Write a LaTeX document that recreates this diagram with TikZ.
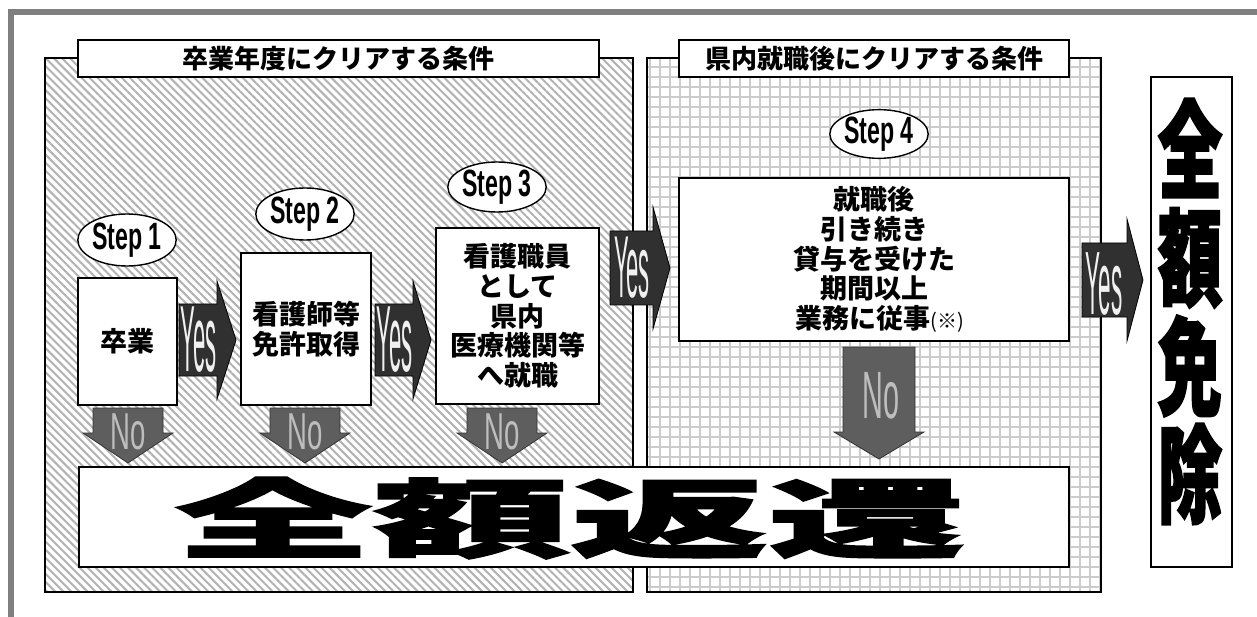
\documentclass[tikz,border=0pt]{standalone}
\usepackage{fontspec}
\setmainfont{Liberation Sans}
\newfontfamily\jp{Noto Sans CJK JP}
\newfontfamily\jpheavyA{Noto Sans CJK JP}[BoldFeatures={FakeBold=1.6}]
\newfontfamily\jpheavyB{Noto Sans CJK JP}[BoldFeatures={FakeBold=2.6}]
\usetikzlibrary{patterns.meta,shapes.geometric}
\definecolor{framegray}{HTML}{7F7F7F}
\definecolor{yesfill}{HTML}{303030}
\definecolor{nofill}{HTML}{5E5E5E}
\definecolor{notext}{HTML}{BDBDBD}
% #1 name, #2 x left, #3 x head base, #4 x tip, #5 centre y, #6 half body, #7 half head
\newcommand\yesarrow[7]{%
  \draw[yesar] (#2,#5-#6) -- (#3,#5-#6) -- (#3,#5-#7) -- (#4,#5) -- (#3,#5+#7) -- (#3,#5+#6) -- (#2,#5+#6) -- cycle;
}
% #1 name, #2 centre x, #3 y top, #4 y head base, #5 y tip, #6 half body, #7 half head
\newcommand\noarrow[7]{%
  \draw[noar] (#2-#6,#3) -- (#2+#6,#3) -- (#2+#6,#4) -- (#2+#7,#4) -- (#2,#5) -- (#2-#7,#4) -- (#2-#6,#4) -- cycle;
}
\begin{document}
\begin{tikzpicture}[x=1pt,y=-1pt,
  panelA/.style={draw, line width=2.6pt, rectangle, inner sep=0pt,
    pattern={Lines[angle=-45,distance=5.7pt,line width=2.0pt]}, pattern color=black!30},
  panelB/.style={draw, line width=2.6pt, rectangle, inner sep=0pt,
    pattern={Hatch[angle=0,distance=10pt,line width=1.8pt]}, pattern color=black!20},
  titlebox/.style={draw, line width=2.6pt, fill=white, rectangle, inner sep=0pt,
    font=\jp\bfseries\fontsize{26}{28}\selectfont},
  stepel/.style={draw, line width=1.4pt, fill=white, ellipse, inner sep=0pt,
    font=\bfseries\fontsize{38}{38}\selectfont},
  box/.style={draw, line width=2.8pt, fill=white, rectangle, inner sep=0pt, align=center,
    font=\jp\bfseries\fontsize{27}{29.7}\selectfont},
  yesar/.style={draw=black, line width=0.8pt, fill=yesfill},
  yestext/.style={text=white!94!black, font=\fontsize{94}{94}\selectfont, inner sep=0pt},
  noar/.style={draw=black!80, line width=0.8pt, fill=nofill},
  notext/.style={text=notext, font=\fontsize{52}{52}\selectfont, inner sep=0pt},
]
\useasboundingbox (0,0) rectangle (1257,617);
\fill[white] (0,0) rectangle (1257,617);

% outer gray frame
\draw[framegray, line width=6pt] (10.5,617) -- (10.5,12) -- (1257,12);

% panels
\node[panelA, minimum width=588pt, minimum height=534pt] (pA) at (339,325) {};
\node[panelB, minimum width=454pt, minimum height=534pt] (pB) at (874,325) {};
\node[titlebox, minimum width=521pt, minimum height=37pt] (tA) at (338.5,58.5) {卒業年度にクリアする条件};
\node[titlebox, minimum width=390pt, minimum height=37pt] (tB) at (874,58.5) {県内就職後にクリアする条件};

% step labels
\node[stepel, minimum width=96pt, minimum height=52pt] (s1) at (127,240) {\scalebox{0.61}[1]{Step 1}};
\node[stepel, minimum width=95pt, minimum height=52pt] (s2) at (305,214) {\scalebox{0.61}[1]{Step 2}};
\node[stepel, minimum width=95pt, minimum height=50pt] (s3) at (497,187) {\scalebox{0.61}[1]{Step 3}};
\node[stepel, minimum width=98pt, minimum height=44pt] (s4) at (879,134) {\scalebox{0.61}[1]{Step 4}};

% step boxes
\node[box, minimum width=99pt, minimum height=127pt] (b1) at (127.5,341.5) {卒業};
\node[box, minimum width=130pt, minimum height=152pt] (b2) at (306,329) {看護師等\\免許取得};
\node[box, minimum width=163pt, minimum height=176pt] (b3) at (517.5,316) {看護職員\\として\\県内\\医療機関等\\へ就職};
\node[box, minimum width=390pt, minimum height=163pt] (b4) at (874,259.5)
  {就職後\\引き続き\\貸与を受けた\\期間以上\\\ \ 業務に従事{\mdseries\fontsize{20}{20}\selectfont(※)}};

% yes arrows
\yesarrow{y1}{179}{217}{236}{340}{36}{59}
\node[yestext] (y1t) at (199,340) {\scalebox{0.235}[1]{Yes}};
\yesarrow{y2}{375}{413}{431}{340}{36}{59}
\node[yestext] (y2t) at (395,340) {\scalebox{0.235}[1]{Yes}};
\yesarrow{y3}{610}{653}{670}{268}{37}{61}
\node[yestext, font=\fontsize{88}{88}\selectfont] (y3t) at (632,268) {\scalebox{0.25}[1]{Yes}};
\yesarrow{y4}{1082}{1127}{1143}{280}{37}{61}
\node[yestext, font=\fontsize{90}{90}\selectfont] (y4t) at (1104,284) {\scalebox{0.25}[1]{Yes}};

% no arrows
\noarrow{n1}{128}{408}{433}{463}{35}{45}
\node[notext] (n1t) at (128,432) {\scalebox{0.53}[1]{No}};
\noarrow{n2}{305}{408}{433}{463}{35}{45}
\node[notext] (n2t) at (305,432) {\scalebox{0.53}[1]{No}};
\noarrow{n3}{502}{408}{433}{463}{35}{45}
\node[notext] (n3t) at (502,432) {\scalebox{0.53}[1]{No}};
\noarrow{n4}{879}{347}{432}{459}{36}{45}
\node[notext, font=\fontsize{67}{67}\selectfont] (n4t) at (881,396) {\scalebox{0.43}[1]{No}};

% result boxes
\node[draw, line width=2.8pt, fill=white, minimum width=990pt, minimum height=100pt, inner sep=0pt] (ret) at (574,517) {};
\node[font=\jpheavyA\bfseries\fontsize{86}{86}\selectfont, inner sep=0pt] (rett) at (570,518) {\scalebox{2.3}[1]{全額返還}};

\node[draw, line width=2.8pt, fill=white, minimum width=81pt, minimum height=490pt, inner sep=0pt] (exm) at (1191.5,322) {};
\foreach \c/\yy [count=\i] in {全/148,額/258,免/366,除/474}{
  \node[font=\jpheavyB\bfseries\fontsize{64}{64}\selectfont, inner sep=0pt] (ex\i) at (1190,\yy) {\scalebox{1}[1.65]{\c}};
}
\end{tikzpicture}
\end{document}
